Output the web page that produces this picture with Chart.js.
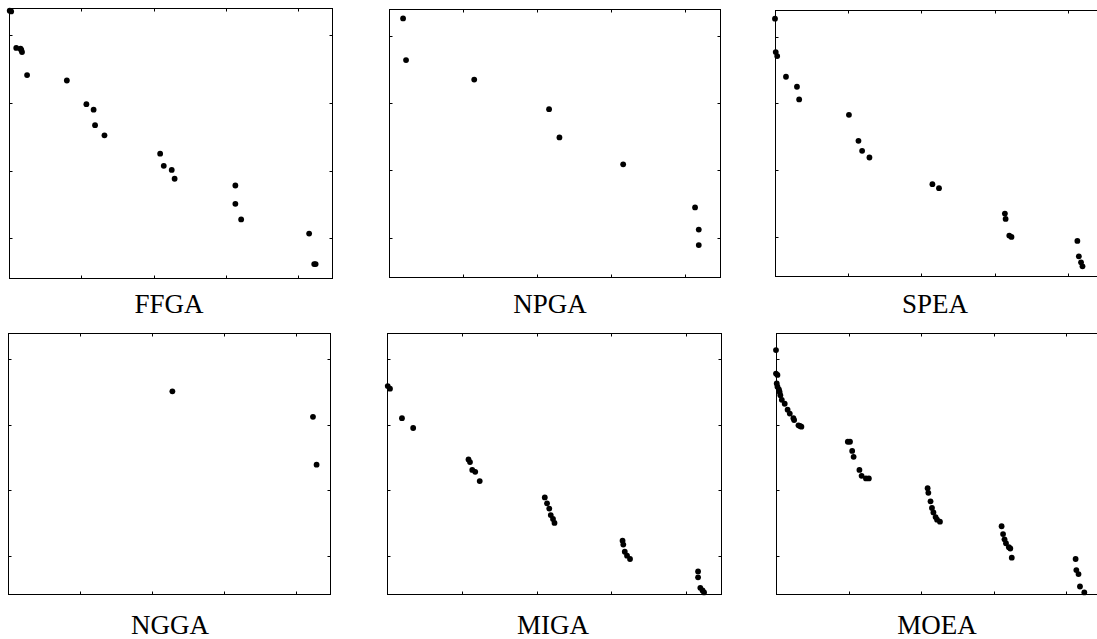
<!DOCTYPE html>
<html>
<head>
<meta charset="utf-8">
<script src="https://cdn.jsdelivr.net/npm/chart.js@4.4.1/dist/chart.umd.min.js"></script>
<style>
    html, body {
        margin: 0;
        padding: 0;
        background: #ffffff;
        overflow: hidden;
        width: 1097px;
        height: 639px;
    }
    canvas {
        position: absolute;
    }
    .label {
        position: absolute;
        width: 200px;
        text-align: center;
        font-family: "Liberation Serif", "Times New Roman", serif;
        font-size: 27px;
        line-height: 27px;
        color: #000;
    }
</style>
</head>
<body>
<script>
// Axis settings shared by all six panels (no numbers are printed, only the tick marks)
const xTicks = [1, 2, 3, 4];
const yTicks = [0.6, 1.6, 2.6, 3.6];
const xMax = 4.48;
const yMax = 4.0;

const panelNames = ['FFGA', 'NPGA', 'SPEA', 'NGGA', 'MIGA', 'MOEA'];

// Non-dominated fronts
const ffgaX = [0.01, 0.03, 0.10, 0.16, 0.17, 0.18, 0.25, 0.80, 1.07, 1.17, 1.19, 1.32, 2.09, 2.14, 2.25, 2.29, 3.13, 3.13, 3.21, 4.15, 4.22, 4.24];
const ffgaY = [3.96, 3.95, 3.41, 3.40, 3.38, 3.35, 3.01, 2.93, 2.58, 2.50, 2.27, 2.12, 1.85, 1.67, 1.61, 1.48, 1.38, 1.11, 0.88, 0.67, 0.22, 0.22];

const npgaX = [0.19, 0.23, 1.15, 2.16, 2.30, 3.16, 4.13, 4.18, 4.18];
const npgaY = [3.86, 3.24, 2.95, 2.51, 2.09, 1.69, 1.05, 0.72, 0.49];

const speaX = [0.00, 0.01, 0.03, 0.15, 0.30, 0.33, 1.01, 1.14, 1.19, 1.29, 2.15, 2.24, 3.14, 3.15, 3.20, 3.23, 4.13, 4.15, 4.18, 4.20];
const speaY = [3.87, 3.37, 3.31, 3.00, 2.85, 2.66, 2.43, 2.04, 1.89, 1.79, 1.39, 1.33, 0.95, 0.87, 0.62, 0.60, 0.54, 0.31, 0.22, 0.16];

const nggaX = [2.28, 4.23, 4.28];
const nggaY = [3.11, 2.72, 1.99];

const migaX = [0.01, 0.04, 0.20, 0.35, 1.09, 1.11, 1.14, 1.18, 1.24, 2.11, 2.14, 2.17, 2.19, 2.22, 2.24, 3.15, 3.16, 3.18, 3.21, 3.25, 4.16, 4.16, 4.19, 4.22, 4.24];
const migaY = [3.19, 3.15, 2.70, 2.55, 2.07, 2.03, 1.91, 1.88, 1.74, 1.49, 1.40, 1.32, 1.22, 1.16, 1.10, 0.83, 0.77, 0.66, 0.60, 0.55, 0.36, 0.27, 0.11, 0.07, 0.04];

const moeaX = [0.00, 0.00, 0.02, 0.01, 0.02, 0.04, 0.05, 0.06, 0.08, 0.12, 0.16, 0.19, 0.24, 0.25, 0.31, 0.33, 0.35,
               0.99, 1.02, 1.05, 1.07, 1.15, 1.18, 1.24, 1.28,
               2.09, 2.10, 2.13, 2.15, 2.17, 2.20, 2.22, 2.26,
               3.11, 3.13, 3.15, 3.17, 3.21, 3.23, 3.25,
               4.13, 4.14, 4.17, 4.19, 4.25];
const moeaY = [3.74, 3.38, 3.36, 3.23, 3.18, 3.14, 3.10, 3.05, 2.98, 2.92, 2.83, 2.77, 2.70, 2.67, 2.59, 2.58, 2.57,
               2.34, 2.34, 2.20, 2.11, 1.91, 1.82, 1.78, 1.78,
               1.63, 1.56, 1.43, 1.33, 1.26, 1.19, 1.15, 1.12,
               1.05, 0.93, 0.85, 0.79, 0.73, 0.71, 0.57,
               0.55, 0.38, 0.32, 0.13, 0.04];

const panelData = [
    [ffgaX, ffgaY],
    [npgaX, npgaY],
    [speaX, speaY],
    [nggaX, nggaY],
    [migaX, migaY],
    [moeaX, moeaY]
];

// Where each plot frame sits on the page (left, top, right, bottom) and where its caption goes
const frames = [
    [9, 8, 333, 279],
    [389, 9, 721, 278],
    [775, 10, 1103, 277],
    [8, 333, 331, 595],
    [387, 333, 722, 595],
    [776, 333, 1101, 595]
];
const captions = [
    [169, 314], [550, 314], [935, 314],
    [170, 635], [553, 635], [937, 635]
];

const pad = 5;
const tickLen = 3;

// Box around the plot with inward ticks on all four sides
const frameTicks = {
    id: 'frameTicks',
    beforeDatasetsDraw(chart) {
        const ctx = chart.ctx;
        const area = chart.chartArea;
        const xScale = chart.scales.x;
        const yScale = chart.scales.y;
        const left = Math.round(area.left) + 0.5;
        const right = Math.round(area.right) - 0.5;
        const top = Math.round(area.top) + 0.5;
        const bottom = Math.round(area.bottom) - 0.5;

        ctx.save();
        ctx.strokeStyle = '#000';
        ctx.lineWidth = 1;
        ctx.strokeRect(left, top, right - left, bottom - top);

        ctx.beginPath();
        xTicks.forEach(function (v) {
            const px = Math.round(xScale.getPixelForValue(v)) + 0.5;
            ctx.moveTo(px, bottom);
            ctx.lineTo(px, bottom - tickLen);
            ctx.moveTo(px, top);
            ctx.lineTo(px, top + tickLen);
        });
        yTicks.forEach(function (v) {
            const py = Math.round(yScale.getPixelForValue(v)) + 0.5;
            ctx.moveTo(left, py);
            ctx.lineTo(left + tickLen, py);
            ctx.moveTo(right, py);
            ctx.lineTo(right - tickLen, py);
        });
        ctx.stroke();
        ctx.restore();
    }
};

panelNames.forEach(function (name, i) {
    const f = frames[i];
    const canvas = document.createElement('canvas');
    canvas.width = (f[2] - f[0]) + 2 * pad;
    canvas.height = (f[3] - f[1]) + 2 * pad;
    canvas.style.left = (f[0] - pad) + 'px';
    canvas.style.top = (f[1] - pad) + 'px';
    document.body.appendChild(canvas);

    const xs = panelData[i][0];
    const ys = panelData[i][1];

    new Chart(canvas, {
        type: 'scatter',
        data: {
            datasets: [{
                label: name,
                data: xs.map(function (x, k) { return { x: x, y: ys[k] }; }),
                backgroundColor: '#000',
                borderWidth: 0,
                pointRadius: 2.9,
                pointStyle: 'circle',
                clip: false
            }]
        },
        options: {
            responsive: false,
            animation: false,
            events: [],
            layout: { padding: pad },
            scales: {
                x: { type: 'linear', display: false, min: 0, max: xMax },
                y: { type: 'linear', display: false, min: 0, max: yMax }
            },
            plugins: {
                legend: { display: false },
                tooltip: { enabled: false }
            }
        },
        plugins: [frameTicks]
    });

    const label = document.createElement('div');
    label.className = 'label';
    label.textContent = name;
    label.style.left = (captions[i][0] - 100) + 'px';
    label.style.top = (captions[i][1] - 22.6) + 'px';
    document.body.appendChild(label);
});
</script>
</body>
</html>
